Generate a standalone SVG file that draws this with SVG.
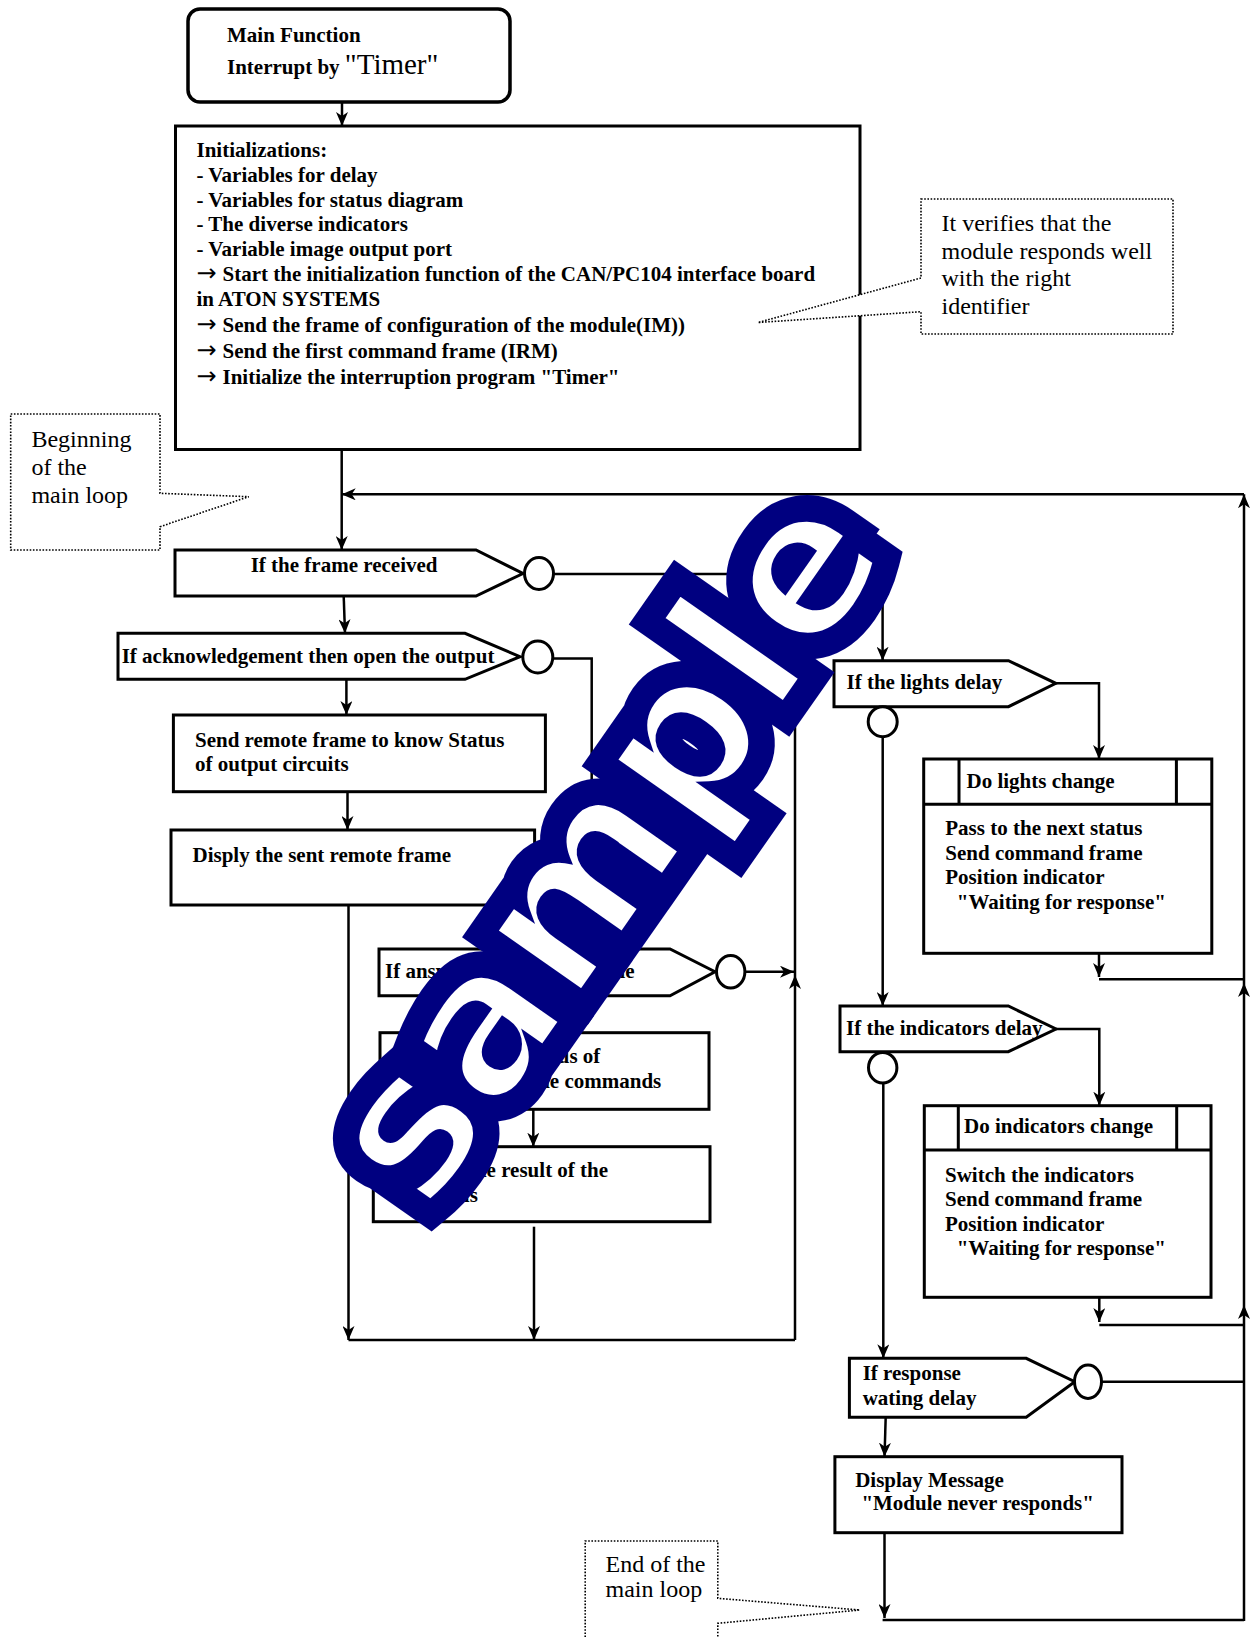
<svg xmlns="http://www.w3.org/2000/svg" width="1253" height="1637" viewBox="0 0 1253 1637">
  <defs>
    <marker id="arrow" markerUnits="userSpaceOnUse" viewBox="0 0 14 12" refX="14" refY="6" markerWidth="14" markerHeight="12" orient="auto">
      <path d="M0,0 L14,6 L0,12 L4,6 Z" fill="#000"/>
    </marker>
    <style>
      .box { fill: #fff; stroke: #000; stroke-width: 3; }
      .conn { fill: none; stroke: #000; stroke-width: 2.5; }
      .arr { fill: none; stroke: #000; stroke-width: 2.5; marker-end: url(#arrow); }
      .note { fill: #fff; stroke: #000; stroke-width: 1.6; stroke-dasharray: 1.6 1.6; }
      .b { font-family: 'Liberation Serif', 'Times New Roman', serif; font-weight: bold; font-size: 21px; fill: #000; }
      .r { font-family: 'Liberation Serif', 'Times New Roman', serif; font-size: 24px; fill: #000; }
      .ar { font-family: 'DejaVu Sans', sans-serif; font-weight: normal; font-size: 24px; }
    </style>
  </defs>
  <rect width="1253" height="1637" fill="#fff"/>

  <!-- callouts on the left and bottom -->
  <g id="note-begin">
    <path class="note" d="M10.7,414 H160 V493.3 L248.8,496.7 L160,526.7 V550 H10.7 Z"/>
    <text class="r" x="31.4" y="446.7">Beginning</text>
    <text class="r" x="31.4" y="475">of the</text>
    <text class="r" x="31.4" y="502.7">main loop</text>
  </g>
  <g id="note-end">
    <path class="note" d="M585.2,1650 V1541 H717.8 V1598.3 L859.6,1610 L717.8,1623.3 V1650"/>
    <text class="r" font-size="21.3" x="605.5" y="1571.7">End of the</text>
    <text class="r" font-size="21.3" x="605.5" y="1596.7">main loop</text>
  </g>

  <!-- connectors -->
  <g id="connectors">
    <path class="arr" d="M342,102 V126"/>
    <path class="arr" d="M341.7,449.5 V550"/>
    <path class="arr" d="M1244,494.3 H341.7"/>
    <path class="arr" d="M343.7,596 L345,633.3"/>
    <path class="arr" d="M346.4,679.3 V715"/>
    <path class="arr" d="M347.5,791.7 V830"/>
    <path class="arr" d="M348.5,905 V1340"/>
    <path class="conn" d="M348.5,1340 H795"/>
    <path class="arr" d="M795,1340 V975"/>
    <path class="conn" d="M795,975 V574"/>
    <path class="conn" d="M553.5,574 H882.6"/>
    <path class="arr" d="M882.6,574 V660.7"/>
    <path class="arr" d="M553,658.5 H591.7 V949"/>
    <path class="arr" d="M745,971.7 H794"/>
    <path class="arr" d="M533.3,995.7 V1032.7"/>
    <path class="arr" d="M533.3,1109.3 V1146.7"/>
    <path class="arr" d="M534,1226.7 V1340"/>

    <path class="arr" d="M1055.8,683.3 H1099 V759"/>
    <path class="arr" d="M882.7,736.7 V1006"/>
    <path class="arr" d="M1099,953.3 V977"/>
    <path class="conn" d="M1099,979.3 H1244"/>
    <path class="arr" d="M1056,1029 H1099.3 V1105.7"/>
    <path class="arr" d="M883.3,1083 V1358.3"/>
    <path class="arr" d="M1099.3,1297.3 V1322"/>
    <path class="conn" d="M1099.3,1325 H1244"/>
    <path class="conn" d="M1101.5,1381.7 H1244"/>
    <path class="arr" d="M885.7,1417.3 L884.5,1456.7"/>
    <path class="arr" d="M884.5,1532.7 V1618"/>
    <path class="conn" d="M882.6,1620 H1244"/>
    <path class="arr" d="M1244,1621 V1305"/>
    <path class="arr" d="M1244,1305 V983"/>
    <path class="arr" d="M1244,983 V494.3"/>
  </g>

  <!-- nodes -->
  <g id="main-function">
    <rect x="188" y="9" width="322" height="93" rx="12" fill="#fff" stroke="#000" stroke-width="3.5"/>
    <text class="b" x="227" y="41.5">Main Function</text>
    <text class="b" x="227" y="74">Interrupt by <tspan font-weight="normal" font-size="29">"Timer"</tspan></text>
  </g>

  <g id="initializations">
    <rect class="box" x="175.5" y="126" width="684.5" height="323.5"/>
    <text class="b" x="196.5" y="156.5">Initializations:</text>
    <text class="b" x="196.5" y="181.5">- Variables for delay</text>
    <text class="b" x="196.5" y="206.5">- Variables for status diagram</text>
    <text class="b" x="196.5" y="231">- The diverse indicators</text>
    <text class="b" x="196.5" y="256">- Variable image output port</text>
    <text class="b" x="196.5" y="281"><tspan class="ar">→</tspan><tspan x="222.5">Start the initialization function of the CAN/PC104 interface board</tspan></text>
    <text class="b" x="196.5" y="305.5">in ATON SYSTEMS</text>
    <text class="b" x="196.5" y="331.5"><tspan class="ar">→</tspan><tspan x="222.5">Send the frame of configuration of the module(IM))</tspan></text>
    <text class="b" x="196.5" y="357.5"><tspan class="ar">→</tspan><tspan x="222.5">Send the first command frame (IRM)</tspan></text>
    <text class="b" x="196.5" y="383.5"><tspan class="ar">→</tspan><tspan x="222.5">Initialize the interruption program "Timer"</tspan></text>
  </g>

  <!-- callout pointing into the initialization block -->
  <g id="note-verify">
    <path class="note" d="M921,199 H1173 V334 H921 V311.7 L758,322.5 L921,278 Z"/>
    <text class="r" font-size="23.7" x="941.5" y="231">It verifies that the</text>
    <text class="r" font-size="23.7" x="941.5" y="258.5">module responds well</text>
    <text class="r" font-size="23.7" x="941.5" y="286">with the right</text>
    <text class="r" font-size="23.7" x="941.5" y="313.5">identifier</text>
  </g>

  <g id="frame-received">
    <path class="box" d="M175,550 H476 L523,573.5 L476,596 H175 Z"/>
    <ellipse class="box" cx="539" cy="573.5" rx="14.5" ry="16"/>
    <text class="b" x="250.7" y="571.7">If the frame received</text>
  </g>

  <g id="acknowledgement">
    <path class="box" d="M118,633.3 H465 L520,656.7 L465,679.3 H118 Z"/>
    <ellipse class="box" cx="537.8" cy="657" rx="15" ry="16"/>
    <text class="b" x="121.7" y="663.3">If acknowledgement then open the output</text>
  </g>

  <g id="send-remote">
    <rect class="box" x="173.4" y="715" width="372" height="76.7"/>
    <text class="b" x="195" y="746.7">Send remote frame to know Status</text>
    <text class="b" x="195" y="770.7">of output circuits</text>
  </g>

  <g id="display-sent">
    <rect class="box" x="171" y="830" width="363.6" height="75"/>
    <text class="b" x="192.5" y="861.7">Disply the sent remote frame</text>
  </g>

  <g id="answer-remote">
    <path class="box" d="M379,949 H670 L715,971.7 L670,995.7 H379 Z"/>
    <ellipse class="box" cx="730.7" cy="971.7" rx="14.2" ry="16.3"/>
    <text class="b" x="385" y="978">If answer to remote <tspan x="581">frame</tspan></text>
  </g>

  <g id="compare-status">
    <rect class="box" x="380" y="1032.7" width="329" height="76.6"/>
    <text class="b" x="403" y="1063.3">Compare the status of</text>
    <text class="b" x="401.7" y="1088.3">"Status" with the commands</text>
  </g>

  <g id="display-result">
    <rect class="box" x="373.3" y="1146.7" width="336.7" height="75"/>
    <text class="b" x="395" y="1176.7">Display the result of the</text>
    <text class="b" x="395" y="1201.7">diagnosis</text>
  </g>

  <g id="lights-delay">
    <path class="box" d="M834,660.7 H1008.5 L1055.8,683.3 L1008.5,706.7 H834 Z"/>
    <ellipse class="box" cx="882.7" cy="721.7" rx="14.5" ry="15"/>
    <text class="b" x="846.5" y="689">If the lights delay</text>
  </g>

  <g id="lights-change">
    <rect class="box" x="923.7" y="759" width="288.1" height="194.3"/>
    <path class="box" d="M923.7,804.3 H1211.8 M959,759 V804.3 M1176.4,759 V804.3"/>
    <text class="b" x="966.5" y="788.3">Do lights change</text>
    <text class="b" x="945.3" y="835">Pass to the next status</text>
    <text class="b" x="945.3" y="860">Send command frame</text>
    <text class="b" x="945.3" y="884.3">Position indicator</text>
    <text class="b" x="956.8" y="909.3">"Waiting for response"</text>
  </g>

  <g id="indicators-delay">
    <path class="box" d="M840,1006 H1008.3 L1056,1029 L1008.3,1051.7 H840 Z"/>
    <ellipse class="box" cx="882.7" cy="1067.7" rx="14.2" ry="15.3"/>
    <text class="b" x="846" y="1035">If the indicators delay</text>
  </g>

  <g id="indicators-change">
    <rect class="box" x="924.3" y="1105.7" width="286.7" height="191.6"/>
    <path class="box" d="M924.3,1150 H1211 M958.3,1105.7 V1150 M1176.7,1105.7 V1150"/>
    <text class="b" x="964" y="1133.3">Do indicators change</text>
    <text class="b" x="945" y="1181.7">Switch the indicators</text>
    <text class="b" x="945" y="1206">Send command frame</text>
    <text class="b" x="945" y="1230.7">Position indicator</text>
    <text class="b" x="956.7" y="1255">"Waiting for response"</text>
  </g>

  <g id="response-delay">
    <path class="box" d="M849.4,1358.3 H1026.2 L1074.8,1381.7 L1026.2,1417.3 H849.4 Z"/>
    <ellipse class="box" cx="1088" cy="1381.7" rx="13.5" ry="16.7"/>
    <text class="b" x="862.7" y="1380">If response</text>
    <text class="b" x="862.7" y="1405">wating delay</text>
  </g>

  <g id="never-responds">
    <rect class="box" x="834.9" y="1456.7" width="287.1" height="76"/>
    <text class="b" x="855.2" y="1486.7">Display Message</text>
    <text class="b" x="861.4" y="1510">"Module never responds"</text>
  </g>

  <!-- diagonal watermark lettering: thick navy outline, white body -->
  <g id="watermark" transform="translate(427,1216) rotate(-55)" font-family="'DejaVu Sans', sans-serif" font-weight="bold" font-size="200">
    <text x="0" y="0" fill="#000080" stroke="#000080" stroke-width="44">sample</text>
    <text x="0" y="0" fill="#fff" stroke="#000080" stroke-width="9">sample</text>
  </g>
</svg>
